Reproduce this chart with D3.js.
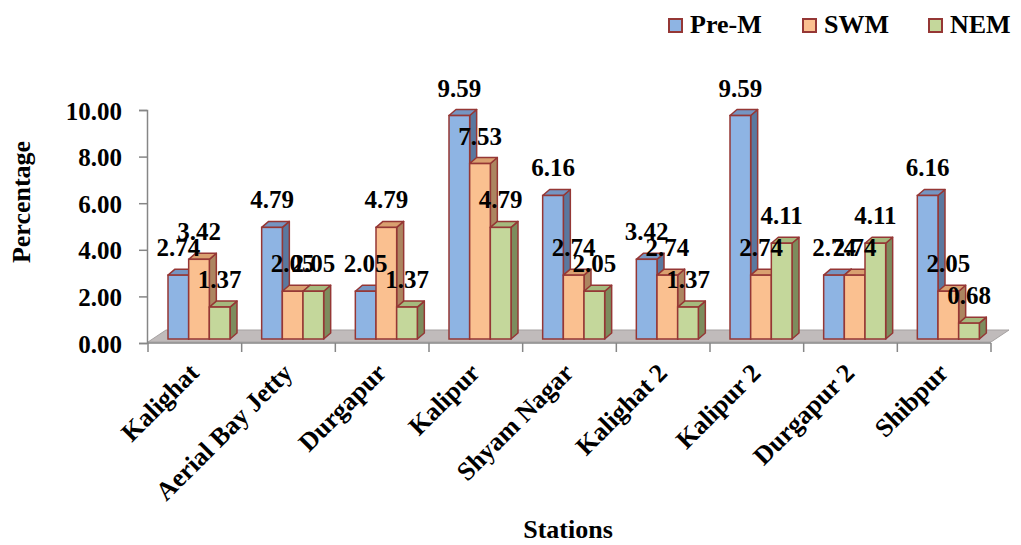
<!DOCTYPE html>
<html>
<head>
<meta charset="utf-8">
<script src="https://cdn.jsdelivr.net/npm/d3@7"></script>
<style>
  html, body { margin: 0; padding: 0; background: #fff; }
  svg { display: block; }
  text { font-family: "Liberation Serif", "DejaVu Serif", serif; font-weight: bold; fill: #000; }
</style>
</head>
<body>
<svg id="chart" width="1021" height="545"></svg>
<script>
// Station names and seasonal percentages
const stations = ["Kalighat", "Aerial Bay Jetty", "Durgapur", "Kalipur", "Shyam Nagar",
                  "Kalighat 2", "Kalipur 2", "Durgapur 2", "Shibpur"];
const seriesNames = ["Pre-M", "SWM", "NEM"];
const preM = [2.74, 4.79, 2.05, 9.59, 6.16, 3.42, 9.59, 2.74, 6.16];
const swm  = [3.42, 2.05, 4.79, 7.53, 2.74, 2.74, 2.74, 2.74, 2.05];
const nem  = [1.37, 2.05, 1.37, 4.79, 2.05, 1.37, 4.11, 4.11, 0.68];
const yTicks = [0, 2, 4, 6, 8, 10];

const seriesValues = { "Pre-M": preM, "SWM": swm, "NEM": nem };
const palette = {
  "Pre-M": { front: "#8EB4E3", top: "#7595c2", side: "#5a789f" },
  "SWM":   { front: "#FAC090", top: "#d9a070", side: "#ac8560" },
  "NEM":   { front: "#C4D79B", top: "#a5b97d", side: "#7d8c5d" }
};
const edge = "#953735";

const svg = d3.select("#chart");

// Plot frame
const left = 148, right = 991, yBase = 343, yTop = 110;
const x = d3.scaleBand().domain(stations).range([left, right]).padding(0);
const xs = d3.scaleBand().domain(seriesNames).range([20, 82]).padding(0);
const y = d3.scaleLinear().domain([0, 10]).range([yBase, yTop]);

// Oblique depth of the bars and of the floor
const lift = 4;           // bars stand on the floor, slightly behind the axis plane
const dx = 7, dy = 6;     // bar depth offset
const fdx = 18, fdy = 12; // floor depth offset

// Floor
svg.append("path")
  .attr("d", `M${left},${yBase - 1} L${right},${yBase - 1} L${right + fdx},${yBase - 1 - fdy} L${left + fdx},${yBase - 1 - fdy} Z`)
  .attr("fill", "#c0bbbb")
  .attr("stroke", "#a6a2a2")
  .attr("stroke-width", 1);

// Y axis
const yAxis = d3.axisLeft(y).tickValues(yTicks).tickFormat(d3.format(".2f")).tickSize(8).tickPadding(17);
const gy = svg.append("g").attr("transform", `translate(${left - 1},0)`).call(yAxis);
gy.select(".domain").attr("stroke", "#868686").attr("stroke-width", 1.5);
gy.selectAll(".tick line").attr("stroke", "#868686").attr("stroke-width", 1.5);
gy.selectAll(".tick text").style("font-size", "25px").attr("dy", "0.36em");

// X axis (category boundaries carry the ticks)
const gx = svg.append("g");
gx.append("line")
  .attr("x1", left - 1).attr("x2", right).attr("y1", yBase).attr("y2", yBase)
  .attr("stroke", "#868686").attr("stroke-width", 1.5);
const bounds = stations.map(s => x(s)).concat([right]);
gx.selectAll("line.tk").data(bounds).join("line")
  .attr("class", "tk")
  .attr("x1", d => d).attr("x2", d => d)
  .attr("y1", yBase).attr("y2", yBase + 9)
  .attr("stroke", "#868686").attr("stroke-width", 1.5);

// Category labels
gx.selectAll("text.cat").data(stations).join("text")
  .attr("class", "cat")
  .attr("transform", d => `translate(${x(d) + x.bandwidth() / 2 - 1},${yBase + 25}) rotate(-45)`)
  .attr("text-anchor", "end")
  .attr("dy", "0.35em")
  .style("font-size", "26px")
  .text(d => d);

// Bars, drawn left to right so nearer faces overlap
const bars = [];
stations.forEach((s, i) => {
  seriesNames.forEach(k => {
    bars.push({ station: s, series: k, value: seriesValues[k][i] });
  });
});

const gb = svg.append("g");
bars.forEach(b => {
  const x0 = x(b.station) + xs(b.series);
  const w = xs.bandwidth();
  const y0 = y(0) - lift;
  const y1 = y(b.value) - lift;
  const c = palette[b.series];
  const g = gb.append("g");
  // side face
  g.append("path")
    .attr("d", `M${x0 + w},${y1} L${x0 + w + dx},${y1 - dy} L${x0 + w + dx},${y0 - dy} L${x0 + w},${y0} Z`)
    .attr("fill", c.side).attr("stroke", edge).attr("stroke-width", 1.5).attr("stroke-linejoin", "round");
  // top face
  g.append("path")
    .attr("d", `M${x0},${y1} L${x0 + dx},${y1 - dy} L${x0 + w + dx},${y1 - dy} L${x0 + w},${y1} Z`)
    .attr("fill", c.top).attr("stroke", edge).attr("stroke-width", 1.5).attr("stroke-linejoin", "round");
  // front face
  g.append("rect")
    .attr("x", x0).attr("y", y1).attr("width", w).attr("height", y0 - y1)
    .attr("fill", c.front).attr("stroke", edge).attr("stroke-width", 1.5);
});

// Value labels
svg.append("g").selectAll("text").data(bars).join("text")
  .attr("x", d => x(d.station) + xs(d.series) + xs.bandwidth() / 2)
  .attr("y", d => y(d.value) - lift - 19)
  .attr("text-anchor", "middle")
  .style("font-size", "25px")
  .text(d => d3.format(".2f")(d.value));

// Legend
const legendX = { "Pre-M": 669, "SWM": 803, "NEM": 929 };
const lg = svg.append("g");
seriesNames.forEach(k => {
  lg.append("rect")
    .attr("x", legendX[k]).attr("y", 19).attr("width", 13).attr("height", 13)
    .attr("fill", palette[k].front).attr("stroke", edge).attr("stroke-width", 2);
  lg.append("text")
    .attr("x", legendX[k] + 21).attr("y", 33)
    .style("font-size", "26px")
    .text(k);
});

// Axis titles
svg.append("text")
  .attr("transform", "translate(30,202) rotate(-90)")
  .attr("text-anchor", "middle")
  .style("font-size", "26px")
  .text("Percentage");

svg.append("text")
  .attr("x", 568).attr("y", 538)
  .attr("text-anchor", "middle")
  .style("font-size", "26px")
  .text("Stations");
</script>
</body>
</html>
